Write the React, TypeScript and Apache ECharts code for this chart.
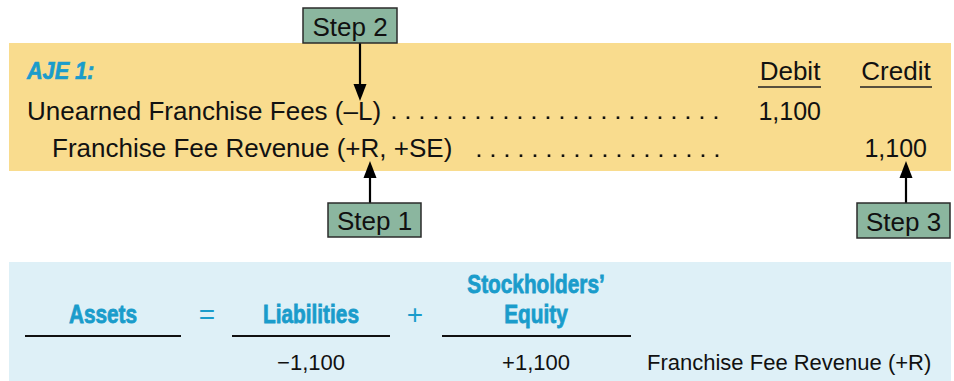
import React, { useEffect, useRef } from "react";
import * as echarts from "echarts";

const journalTitle = "AJE 1:";
const columnHeaders = ["Debit", "Credit"];
const entryAccounts = ["Unearned Franchise Fees (–L)", "Franchise Fee Revenue (+R, +SE)"];
const debitValues = ["1,100", ""];
const creditValues = ["", "1,100"];
const stepLabels = ["Step 1", "Step 2", "Step 3"];
const equationHeaders = ["Assets", "Liabilities", "Stockholders’\nEquity"];
const equationOperators = ["=", "+"];
const equationValues = ["", "−1,100", "+1,100"];
const equationNote = "Franchise Fee Revenue (+R)";

const YELLOW = "#F9DC8E";
const LIGHT_BLUE = "#DEF0F7";
const BLUE = "#1A9CCB";
const GREEN = "#8BB69F";
const BODY_FONT = "'Liberation Sans', Arial, sans-serif";

function stepBox(label: string, x: number, y: number, w: number, h: number) {
  return [
    {
      type: "rect",
      shape: { x, y, width: w, height: h },
      style: { fill: GREEN, stroke: "#2b2b2b", lineWidth: 1.5 },
    },
    {
      type: "text",
      x: x + w / 2,
      y: y + h / 2 + 1,
      style: { text: label, fill: "#111", font: `26px ${BODY_FONT}`, align: "center", verticalAlign: "middle" },
    },
  ];
}

function arrow(x: number, yFrom: number, yTip: number) {
  const dir = yTip > yFrom ? 1 : -1;
  const headLen = 17;
  const headHalf = 6.5;
  return [
    {
      type: "line",
      shape: { x1: x, y1: yFrom, x2: x, y2: yTip - dir * headLen },
      style: { stroke: "#000", lineWidth: 2.2 },
    },
    {
      type: "polygon",
      shape: {
        points: [
          [x, yTip],
          [x - headHalf, yTip - dir * headLen],
          [x + headHalf, yTip - dir * headLen],
        ],
      },
      style: { fill: "#000" },
    },
  ];
}

function dots(x0: number, y: number, count: number, spacing: number) {
  const out: any[] = [];
  for (let i = 0; i < count; i++) {
    out.push({
      type: "rect",
      shape: { x: x0 + i * spacing - 1.3, y: y - 2.6, width: 2.6, height: 2.6 },
      style: { fill: "#111" },
    });
  }
  return out;
}

function txt(text: string, x: number, y: number, font: string, fill: string, align: string = "left", scaleX = 1, strokeW = 0) {
  const style: any = { text, fill, font, align, verticalAlign: "middle" };
  if (strokeW > 0) {
    style.stroke = fill;
    style.lineWidth = strokeW;
  }
  return { type: "text", x, y, scaleX, style };
}

export default function App() {
  const ref = useRef<HTMLDivElement>(null);
  useEffect(() => {
    document.body.style.margin = "0";
    const chart = echarts.init(ref.current!, undefined, { renderer: "svg" });
    const els: any[] = [];

    // Yellow journal panel
    els.push({ type: "rect", shape: { x: 9, y: 43, width: 942, height: 128 }, style: { fill: YELLOW } });
    els.push(txt(journalTitle, 27, 71, `italic bold 23px ${BODY_FONT}`, BLUE, "left", 0.94, 0.7));

    const colCenters = [790, 896];
    const colUnder = [[758, 821], [860, 932]];
    columnHeaders.forEach((h, i) => {
      els.push(txt(h, colCenters[i], 71, `26px ${BODY_FONT}`, "#111", "center"));
      els.push({
        type: "line",
        shape: { x1: colUnder[i][0], y1: 87, x2: colUnder[i][1], y2: 87 },
        style: { stroke: "#222", lineWidth: 1.5 },
      });
    });

    const rowY = [111, 148];
    const rowX = [27, 52];
    const dotStart = [394, 479];
    const dotCount = [24, 18];
    const dotY = [119, 157];
    entryAccounts.forEach((a, i) => {
      els.push(txt(a, rowX[i], rowY[i], `26px ${BODY_FONT}`, "#111"));
      els.push(...dots(dotStart[i], dotY[i], dotCount[i], 14));
      if (debitValues[i]) els.push(txt(debitValues[i], 821, rowY[i], `25px ${BODY_FONT}`, "#111", "right"));
      if (creditValues[i]) els.push(txt(creditValues[i], 927, rowY[i], `25px ${BODY_FONT}`, "#111", "right"));
    });

    // Steps and arrows
    els.push(...arrow(360, 43, 101));
    els.push(...stepBox(stepLabels[1], 303, 8, 94, 35));
    els.push(...arrow(370, 203, 161));
    els.push(...stepBox(stepLabels[0], 328, 203, 93, 34));
    els.push(...arrow(906, 203, 161));
    els.push(...stepBox(stepLabels[2], 857, 203, 93, 35));

    // Blue equation panel
    els.push({ type: "rect", shape: { x: 9, y: 262, width: 942, height: 119 }, style: { fill: LIGHT_BLUE } });
    const eqCenters = [103, 311, 536];
    const eqUnder = [[25, 181], [232, 390], [442, 631]];
    equationHeaders.forEach((h, i) => {
      const lines = h.split("\n");
      lines.forEach((ln, j) => {
        const y = 314 - (lines.length - 1 - j) * 30;
        els.push(txt(ln, eqCenters[i], y, `bold 26px ${BODY_FONT}`, BLUE, "center", 0.8, 0.8));
      });
      els.push({
        type: "line",
        shape: { x1: eqUnder[i][0], y1: 336, x2: eqUnder[i][1], y2: 336 },
        style: { stroke: "#111", lineWidth: 2 },
      });
      if (equationValues[i]) els.push(txt(equationValues[i], eqCenters[i], 362, `22px ${BODY_FONT}`, "#111", "center"));
    });
    const opX = [207, 415];
    equationOperators.forEach((o, i) => {
      els.push(txt(o, opX[i], 314, `28px ${BODY_FONT}`, BLUE, "center"));
    });
    els.push(txt(equationNote, 647, 362, `22px ${BODY_FONT}`, "#111"));

    chart.setOption({ animation: false, graphic: { elements: els } });
    return () => chart.dispose();
  }, []);
  return <div ref={ref} style={{ width: 954, height: 381 }} />;
}
